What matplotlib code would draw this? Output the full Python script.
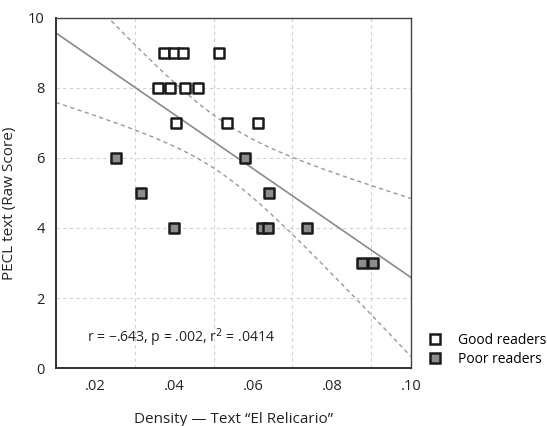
import matplotlib.pyplot as plt
import numpy as np
from matplotlib.lines import Line2D

plt.rcParams['font.family'] = ['Open Sans', 'DejaVu Sans']

# good readers (white squares)
good_x = [0.0374, 0.0400, 0.0422, 0.0515, 0.0360, 0.0390, 0.0428, 0.0460, 0.0406, 0.0533, 0.0613]
good_y = [9, 9, 9, 9, 8, 8, 8, 8, 7, 7, 7]

# poor readers (gray squares)
poor_x = [0.0253, 0.0579, 0.0317, 0.0641, 0.0399, 0.0623, 0.0639, 0.0736, 0.0876, 0.0905]
poor_y = [6, 6, 5, 5, 4, 4, 4, 4, 3, 3]

x_ticks = [0.02, 0.04, 0.06, 0.08, 0.10]
x_tick_labels = ['.02', '.04', '.06', '.08', '.10']
y_ticks = [0, 2, 4, 6, 8, 10]

stats_text = 'r = \u2212.643, p = .002, r$^2$ = .0414'

# regression on all points + 95% band of the mean
all_x = np.array(good_x + poor_x)
all_y = np.array(good_y + poor_y)
n = len(all_x)
slope, intercept = np.polyfit(all_x, all_y, 1)
resid = all_y - (slope * all_x + intercept)
s = np.sqrt(np.sum(resid ** 2) / (n - 2))
sxx = np.sum((all_x - all_x.mean()) ** 2)
xs = np.linspace(0.01, 0.10, 200)
fit = slope * xs + intercept
half = 2.09 * s * np.sqrt(1 / n + (xs - all_x.mean()) ** 2 / sxx)

fig = plt.figure(figsize=(5.47, 4.26), dpi=100)
ax = fig.add_axes([0.102, 0.136, 0.649, 0.822])

ax.plot(xs, fit, color='#8a8a8a', lw=1.2, zorder=2)
ax.plot(xs, fit + half, color='#999999', lw=1.0, ls=(0, (3, 2.5)), zorder=2)
ax.plot(xs, fit - half, color='#999999', lw=1.0, ls=(0, (3, 2.5)), zorder=2)

ax.scatter(good_x, good_y, marker='s', s=58, facecolor='white', edgecolor='#1a1a1a', linewidth=1.8, zorder=3)
ax.scatter(poor_x, poor_y, marker='s', s=58, facecolor='#8c8c8c', edgecolor='#1a1a1a', linewidth=1.8, zorder=3)

ax.set_xlim(0.01, 0.10)
ax.set_ylim(0, 10)
ax.set_xticks(np.arange(0.01, 0.1001, 0.01), minor=True)
ax.set_xticks(x_ticks)
ax.set_xticklabels(x_tick_labels)
ax.set_yticks(y_ticks)
ax.tick_params(which='both', length=0, labelsize=10.5, colors='#222222', pad=8)
ax.grid(which='minor', axis='x', color='#d0d0d0', ls=(0, (3, 3)), lw=0.8)
ax.grid(which='major', axis='y', color='#d0d0d0', ls=(0, (3, 3)), lw=0.8)
ax.set_axisbelow(True)

for side in ['top', 'right']:
    ax.spines[side].set_color('#444444')
    ax.spines[side].set_linewidth(1.0)
for side in ['left', 'bottom']:
    ax.spines[side].set_color('#333333')
    ax.spines[side].set_linewidth(1.4)

ax.set_xlabel('Density \u2014 Text \u201cEl Relicario\u201d', fontsize=11, color='#222222')
ax.xaxis.set_label_coords(0.5, -0.125)
ax.set_ylabel('PECL text (Raw Score)', fontsize=11, color='#222222')
ax.yaxis.set_label_coords(-0.108, 0.471)

ax.text(0.088, 0.088, stats_text, transform=ax.transAxes, fontsize=10.1, color='#222222', va='center')

handles = [
    Line2D([], [], marker='s', ls='none', markersize=7, markerfacecolor='white', markeredgecolor='#1a1a1a', markeredgewidth=1.8),
    Line2D([], [], marker='s', ls='none', markersize=7, markerfacecolor='#8c8c8c', markeredgecolor='#1a1a1a', markeredgewidth=1.8),
]
fig.legend(handles, ['Good readers', 'Poor readers'], loc='center left', bbox_to_anchor=(427 / 547, 1 - 350 / 426),
           frameon=False, fontsize=10, handletextpad=1.0, labelspacing=0.3, handlelength=1.2,
           borderpad=0, borderaxespad=0)

fig.savefig('out.png', dpi=100)
